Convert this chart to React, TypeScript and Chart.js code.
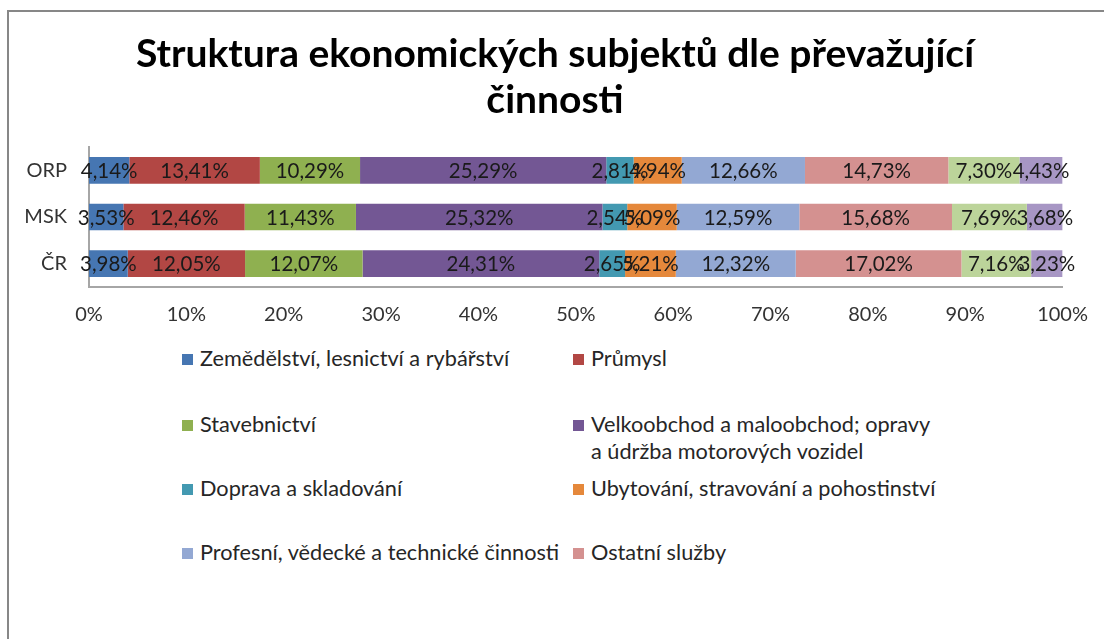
import React, { useEffect, useRef } from 'react';
import { Chart, registerables } from 'chart.js';

Chart.register(...registerables);

const titleLines = ['Struktura ekonomických subjektů dle převažující', 'činnosti'];
const categories = ['ORP', 'MSK', 'ČR'];

const seriesNames = [
  'Zemědělství, lesnictví a rybářství',
  'Průmysl',
  'Stavebnictví',
  'Velkoobchod a maloobchod; opravy a údržba motorových vozidel',
  'Doprava a skladování',
  'Ubytování, stravování a pohostinství',
  'Profesní, vědecké a technické činnosti',
  'Ostatní služby',
  'Ostatní činnosti',
  'Nezařazeno',
];

const agriculture = [4.14, 3.53, 3.98];
const industry = [13.41, 12.46, 12.05];
const construction = [10.29, 11.43, 12.07];
const trade = [25.29, 25.32, 24.31];
const transport = [2.81, 2.54, 2.65];
const accommodation = [4.94, 5.09, 5.21];
const professional = [12.66, 12.59, 12.32];
const otherServices = [14.73, 15.68, 17.02];
const series9 = [7.3, 7.69, 7.16];
const series10 = [4.43, 3.68, 3.23];

const seriesValues = [
  agriculture, industry, construction, trade, transport,
  accommodation, professional, otherServices, series9, series10,
];

const colors = [
  '#4676B2', '#B24744', '#8FB050', '#735794', '#4399B1',
  '#E5883B', '#93A8D3', '#D49190', '#BCD49A', '#A796C4',
];

// legend shows the first eight entries (rest cut off by the frame)
const legendRows = [
  [0, 1],
  [2, 3],
  [4, 5],
  [6, 7],
];
const legendLines: Record<number, string[]> = {
  3: ['Velkoobchod a maloobchod; opravy', 'a údržba motorových vozidel'],
};

const FONT = 'Lato, "Open Sans", sans-serif';

const dataLabels = {
  id: 'dataLabels',
  afterDatasetsDraw(chart: any) {
    const ctx = chart.ctx;
    ctx.save();
    ctx.font = `20.5px ${FONT}`;
    ctx.fillStyle = '#1a1a1a';
    ctx.textAlign = 'center';
    ctx.textBaseline = 'middle';
    chart.data.datasets.forEach((ds: any, i: number) => {
      const meta = chart.getDatasetMeta(i);
      meta.data.forEach((el: any, j: number) => {
        const v = ds.data[j];
        const p = el.getCenterPoint();
        ctx.fillText(v.toFixed(2).replace('.', ',') + '%', p.x, p.y + 1);
      });
    });
    ctx.restore();
  },
};

function ChartCanvas() {
  const ref = useRef<HTMLCanvasElement>(null);
  useEffect(() => {
    if (!ref.current) return;
    const chart = new Chart(ref.current, {
      type: 'bar',
      data: {
        labels: categories,
        datasets: seriesValues.map((vals, i) => ({
          label: seriesNames[i],
          data: vals,
          backgroundColor: colors[i],
          borderWidth: 0,
          categoryPercentage: 1,
          barPercentage: 0.57,
        })),
      },
      options: {
        indexAxis: 'y',
        animation: false,
        responsive: false,
        maintainAspectRatio: false,
        layout: { padding: { top: 147, right: 39, left: 0, bottom: 0 } },
        plugins: {
          legend: { display: false },
          title: { display: false },
          tooltip: { enabled: false },
        },
        scales: {
          x: {
            stacked: true,
            min: 0,
            max: 100,
            grid: { display: false, drawTicks: false },
            border: { display: true, color: '#a6a6a6', width: 2 },
            ticks: {
              stepSize: 10,
              padding: 16,
              color: '#333333',
              font: { family: FONT, size: 20 },
              callback: (v: any) => v + '%',
            },
            afterFit: (s: any) => { s.height = 53; },
          },
          y: {
            stacked: true,
            grid: { display: false, drawTicks: false },
            border: { display: true, color: '#a6a6a6', width: 2 },
            ticks: {
              padding: 22,
              color: '#333333',
              font: { family: FONT, size: 20 },
            },
            afterFit: (s: any) => { s.width = 89; },
          },
        },
      },
      plugins: [dataLabels],
    });
    return () => chart.destroy();
  }, []);
  return (
    <canvas
      ref={ref}
      width={1104}
      height={340}
      style={{ position: 'absolute', left: 0, top: 0, width: 1104, height: 340 }}
    />
  );
}

export default function App() {
  const colX = [182, 573];
  const rowY = [359, 425, 489, 553];
  return (
    <div
      style={{
        position: 'fixed', left: 0, top: 0, width: 1104, height: 639,
        overflow: 'hidden', background: '#fff', fontFamily: FONT,
      }}
    >
      <div
        style={{
          position: 'absolute', left: 7, top: 10, width: 1300, height: 900,
          border: '2px solid #878787', boxSizing: 'border-box',
        }}
      />
      <ChartCanvas />
      <div
        style={{
          position: 'absolute', left: 0, top: 29, width: 1110, textAlign: 'center',
          fontWeight: 700, fontSize: 39, lineHeight: '46px', color: '#000',
        }}
      >
        {titleLines.map((t, i) => (
          <div key={i}>{t}</div>
        ))}
      </div>
      {legendRows.map((row, r) =>
        row.map((idx, c) => {
          const lines = legendLines[idx] || [seriesNames[idx]];
          return (
            <div
              key={idx}
              style={{ position: 'absolute', left: colX[c], top: rowY[r] - 14 }}
            >
              <div
                style={{
                  position: 'absolute', left: 0, top: 9, width: 11, height: 11,
                  background: colors[idx],
                }}
              />
              <div
                style={{
                  position: 'absolute', left: 18, top: 0, whiteSpace: 'nowrap',
                  fontSize: 21.7, lineHeight: '27px', color: '#262626',
                }}
              >
                {lines.map((l, k) => (
                  <div key={k}>{l}</div>
                ))}
              </div>
            </div>
          );
        })
      )}
    </div>
  );
}
